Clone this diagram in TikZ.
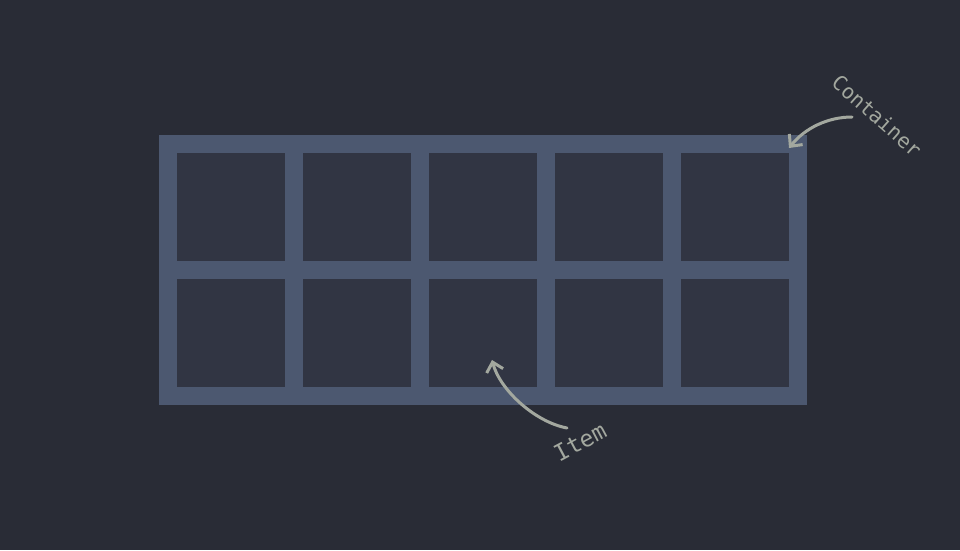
\documentclass[tikz,border=0pt]{standalone}
\usepackage{fontspec}
\setmonofont{DejaVu Sans Mono}
\usetikzlibrary{arrows.meta}
\definecolor{bgdark}{HTML}{292C36}
\definecolor{frameblue}{HTML}{4C5870}
\definecolor{cellfill}{HTML}{313543}
\definecolor{inkgrey}{HTML}{A3A89F}

\begin{document}
\begin{tikzpicture}[x=1pt,y=-1pt,
  cell/.style={fill=cellfill, minimum size=108pt, inner sep=0pt},
  note/.style={font=\ttfamily\fontsize{20.5}{20.5}\selectfont, text=inkgrey},
  pointer/.style={-{Straight Barb[length=9pt,width=17pt]}, draw=inkgrey, line width=3pt, line cap=round}]

  \fill[bgdark] (0,0) rectangle (960,550);
  \node[fill=frameblue, minimum width=648pt, minimum height=270pt, inner sep=0pt] (box) at (483,270) {};
  \foreach \r in {1,2} {
    \foreach \c in {1,...,5} {
      \node[cell] (cell-\r-\c) at ({231+126*(\c-1)},{207+126*(\r-1)}) {};
    };
  };

  \node[note, rotate=-41.5] (container-label) at (877,116) {Container};
  \node[note, font=\ttfamily\fontsize{23}{23}\selectfont, rotate=28] (item-label) at (580,442) {Item};

  \coordinate (container-tail) at (852,117);
  \coordinate (container-tip) at (789,148);
  \coordinate (item-tail) at (567,428);
  \coordinate (item-tip) at (492,360);
  \draw[pointer] (container-tail) .. controls (828,117) and (805,128) .. (container-tip);
  \draw[pointer] (item-tail) .. controls (535,422) and (500,390) .. (item-tip);
\end{tikzpicture}
\end{document}
